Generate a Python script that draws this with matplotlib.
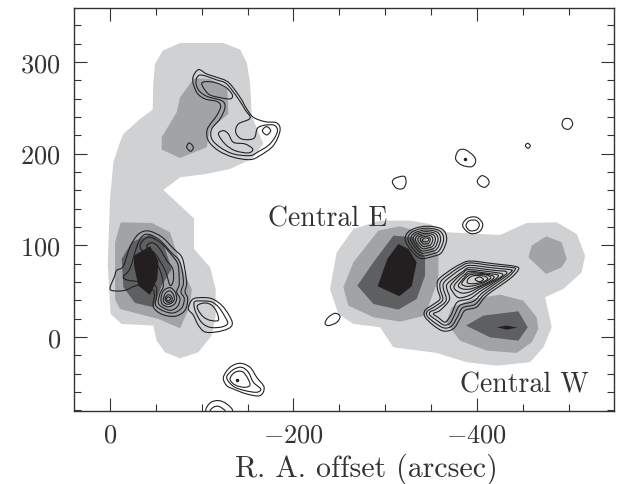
import matplotlib
matplotlib.use("Agg")
import matplotlib.pyplot as plt
import numpy as np
from matplotlib.patches import PathPatch
from matplotlib.path import Path
from matplotlib.ticker import MultipleLocator

# grey levels (R.A. offset, Dec offset in arcsec)
light_left = [(-76.4,320.6),(-123.6,320.6),(-141.8,313.4),(-149.1,299.5),(-152.7,277.7),(-154.5,241.4),(-167.2,210.5),(-154.5,194.1),(-130.9,183.2),(-105.4,177.8),(-76.4,174.1),(-58.2,160.3),(-91.6,129.4),(-91.6,96),(-109.1,76),(-115.2,52.4),(-115.2,23.3),(-110.9,1.5),(-96.4,-16.7),(-76.4,-23.3),(-60,-16.7),(-50.9,-4),(-47.3,12.4),(-12.7,14.2),(-0.7,25.1),(2.5,77.8),(0,150.5),(-3.7,190.5),(-10.9,212.3),(-14.6,221.4),(-32.7,237.7),(-46.5,247.9),(-47.3,277.7),(-49.1,297.7),(-57.5,312.3)]
light_right = [(-239.9,52.4),(-247.2,92.3),(-265.4,117.8),(-294.4,126.9),(-327.2,126.9),(-349,123.2),(-367.1,114.2),(-425.3,111.2),(-454.4,124.3),(-487.1,125.1),(-508.9,112.3),(-518,88.7),(-514.4,70.5),(-494.4,52.4),(-474.4,43.3),(-481.6,10.6),(-472.6,-11.3),(-458,-27.6),(-421.7,-31.3),(-389,-27.6),(-356.2,-17.4),(-309,-11.3),(-294.4,10.6),(-265.4,14.2),(-249,25.1)]
mid_top = [(-91.6,282.1),(-76.4,261.4),(-72.7,245),(-56.4,217.8),(-56.4,204.3),(-76.4,195.2),(-105.4,206.9),(-109.1,226.8),(-129.1,243.2),(-128,270.5),(-109.1,281.4)]
mid_left = [(-11.7,125),(-45.5,124.3),(-65.4,114.2),(-72.7,92.3),(-81.8,66.9),(-89.1,52.4),(-87.3,34.2),(-76.4,9.5),(-52.7,19.6),(-10.9,30.5),(-5.5,41.4),(-5.5,103.2)]
mid_east = [(-254.5,54.2),(-265.4,81.4),(-292.6,116),(-316.3,120.7),(-338.1,114.2),(-358.1,88.7),(-358.1,63.3),(-343.5,23.3),(-316.3,16.7),(-287.2,21.5),(-259.9,34.2)]
mid_hex = [(-456.2,86.9),(-459.8,99.6),(-475.5,109.8),(-492.5,103.2),(-498,85.1),(-492.5,76),(-475.5,68.7)]
mid_west = [(-366.4,16),(-372.6,32.4),(-396.2,41.4),(-425.3,46.2),(-450.7,39.6),(-465.3,21.5),(-467.1,8.7),(-459.8,-5.8),(-443.5,-17.4),(-410.8,-14.9),(-381.7,-4)]
dark_left = [(-23.6,103.2),(-43.6,112.3),(-58.2,101.4),(-67.3,74.2),(-56.4,56),(-47.3,32.4),(-27.3,37.1),(-14.6,54.2),(-12.7,85.1)]
dark_east = [(-269.7,56),(-287.2,81.4),(-309,110.5),(-330.8,108.7),(-343.5,86.9),(-343.5,66.9),(-334.4,41.4),(-314.4,29.8),(-287.2,36)]
dark_west = [(-388.2,12.4),(-407.1,23.3),(-445.3,28),(-455.5,10.6),(-445.3,-4),(-414.4,-0.4)]
black_left = [(-43.6,98.9),(-52.7,83.3),(-51.6,63.3),(-43.6,45.8),(-30.9,56),(-26.2,77.8),(-26.2,88.7)]
black_east = [(-291.9,55.3),(-302.4,85.1),(-314.4,101.4),(-325.3,96),(-334.4,81.4),(-329,55.3),(-315.5,44.4)]
black_west = [(-421.7,10.6),(-432.6,12.4),(-444.2,10.2),(-432.6,8)]

# contour rings
east_rings = [
    [(-321.7,106.9),(-327.2,116),(-343.5,120.7),(-361.7,117.8),(-367.1,106.9),(-361.7,92.3),(-352.6,88),(-338.1,85.8),(-327.2,96)],
    [(-324.8,107),(-329.5,114.6),(-343.5,118.6),(-359,116),(-363.8,106.8),(-359,94.2),(-351.3,90.5),(-338.8,88.6),(-329.5,97.4)],
    [(-327.8,106.6),(-331.8,113.2),(-343.5,116.6),(-356.6,114.5),(-360.5,106.6),(-356.6,96.1),(-350,93),(-339.6,91.5),(-331.8,98.8)],
    [(-330.4,106.5),(-333.7,112),(-343.5,114.8),(-354.4,113),(-357.7,106.5),(-354.4,97.8),(-349,95.2),(-340.3,93.9),(-333.7,100)],
    [(-333,106.4),(-335.7,110.8),(-343.5,113),(-352.2,111.6),(-354.8,106.4),(-352.2,99.4),(-347.9,97.4),(-340.9,96.3),(-335.7,101.2)],
    [(-335.6,106.3),(-337.6,109.6),(-343.5,111.3),(-350,110.2),(-352,106.3),(-350,101),(-346.8,99.5),(-341.6,98.7),(-337.6,102.4)],
    [(-338.3,106.2),(-339.6,108.4),(-343.5,109.5),(-347.9,108.8),(-349.2,106.2),(-347.9,102.7),(-345.7,101.7),(-342.2,101.2),(-339.6,103.6)],
    [(-340.6,106),(-343.5,107.9),(-347,107.3),(-347.5,105.5),(-345,103.8),(-341.5,104)],
]
west_rings = [
    [(-392.6,82.8),(-418.1,79.9),(-441.7,77),(-445.3,73.4),(-436.2,63.6),(-410.8,45.4),(-399.9,32.7),(-387.2,29),(-381.7,20),(-374.5,9),(-363.5,6.5),(-352.6,12.7),(-343.5,21.8),(-343.5,29),(-352.6,35.6),(-359.9,41.8),(-357,52.7),(-358.1,62.5),(-370.8,72.7),(-381.7,79.2)],
    [(-392.6,80.7),(-418.1,77.7),(-439.2,75.6),(-441.7,73.4),(-433.3,64.7),(-409,47.2),(-398.1,35.6),(-384.6,31.9),(-378.8,21.8),(-372.6,12),(-364.3,9.8),(-354.5,15.2),(-346.1,22.5),(-346.1,28),(-354.5,33.4),(-362.8,40.7),(-359.9,52.7),(-361,61),(-372.6,70.5),(-382.5,77)],
    [(-392.6,78.1),(-418.1,75.2),(-436.2,73.4),(-438.1,71.9),(-429.7,64.7),(-407.2,49),(-396.3,38.9),(-381.7,34.5),(-375.5,23.6),(-370.8,15.2),(-364.3,13),(-356.3,18.1),(-349,23.6),(-349,27.2),(-356.3,30.9),(-366.5,39.9),(-363.5,52.7),(-364.3,59.6),(-374.5,68.3),(-383.5,74.5)],
    [(-392.6,75.6),(-418.1,72.7),(-432.6,70.8),(-425.3,63.6),(-405.3,50.9),(-392.6,41.8),(-378.8,38.1),(-372.6,25.4),(-367.9,18.1),(-364.3,16.3),(-358.1,21.1),(-352.6,25.4),(-359.9,29),(-370.1,40.7),(-367.2,52.7),(-367.9,58.1),(-377.4,66.1),(-385.4,71.9)],
    [(-390.8,73.4),(-416.3,70.8),(-428.3,68.3),(-421.7,62.5),(-403.5,52.7),(-391.9,45.4),(-379.9,42.9),(-372.6,50.9),(-371.5,56.3),(-378.8,64.7),(-385.4,69.8)],
    [(-392.6,71.6),(-414.4,69),(-423.5,67.2),(-418.1,61.8),(-401.7,53.8),(-391.9,49),(-383.5,47.9),(-376.3,51.6),(-375.5,56.3),(-381.7,63.6),(-387.2,68.3)],
    [(-392.6,69.8),(-410.8,68.3),(-418.8,65.4),(-412.6,59.9),(-399.9,54.5),(-390.8,52),(-383.5,52.7),(-379.9,56.3),(-385.4,63.6)],
    [(-394.4,68.3),(-409,67.9),(-415.2,64.7),(-409,59.9),(-398.1,56.3),(-389,55.2),(-383.5,58.1),(-388.3,64.7)],
    [(-396.3,66.8),(-407.2,66.5),(-411.9,63.6),(-406.4,59.9),(-396.3,58.1),(-389.7,58.9),(-390.8,63.6)],
    [(-398.1,62.8),(-402.8,65.4),(-407.2,62.8),(-402.8,60.3)],
]
left_rings = [
    [(0,52.8),(-4.7,65.5),(-7.3,72.7),(-14.5,77.1),(-21.8,98.2),(-30.9,112),(-41.8,115.6),(-56.4,109.1),(-69.1,96.4),(-78.2,87.3),(-81.8,72.7),(-83.6,58.2),(-81.8,49.1),(-84.7,41.8),(-81.8,29.1),(-70.9,22.6),(-56.4,24.8),(-47.3,32.8),(-48.4,45.5),(-45.4,52.8),(-30.9,56.4),(-16.4,50.9),(-5.5,50.2)],
    [(-14.5,65.5),(-21.8,74.6),(-29.1,98.2),(-34.5,109.1),(-41.8,112),(-54.5,105.5),(-67.3,91.6),(-75.3,83.6),(-78.9,70.9),(-80,58.2),(-77.4,49.1),(-81,41.8),(-78.2,31.7),(-69.1,26.2),(-58.2,28.4),(-49.8,34.6),(-50.9,45.5),(-49.1,56.4),(-34.5,60),(-20,61.8)],
    [(-32.7,100),(-38.2,107.3),(-45.4,108.4),(-56.4,101.8),(-67.3,89.1),(-73.8,80),(-75.3,67.3),(-75.3,56.4),(-72.7,49.1),(-76.3,41.8),(-73.8,33.5),(-66.5,29.1),(-58.2,31.7),(-52.7,37.1),(-54.5,47.3),(-58.2,56.4),(-54.5,72.7),(-43.6,92.7),(-36.4,92.7)],
    [(-40,98.2),(-45.4,102.9),(-52.7,98.2),(-61.8,83.6),(-68.3,74.6),(-69.1,61.8),(-65.4,56.4),(-60,72.7),(-49.1,90.9)],
    [(-55.6,41.8),(-58.2,50.2),(-65.4,53.8),(-70.9,49.1),(-72.7,41.8),(-70.2,35.7),(-63.6,32.8),(-57.1,35.7)],
    [(-58.2,41.8),(-60.7,48),(-65.4,50.2),(-69.1,46.2),(-70.2,41.1),(-67.3,37.1),(-62.5,35.7),(-58.9,37.9)],
    [(-60,41.8),(-63.6,46.2),(-67.3,43.7),(-67.3,39.3),(-62.9,37.8)],
    [(-61.1,41.5),(-63.6,43.7),(-66.1,41.8),(-63.6,39.3)],
    [(-89.8,40.8),(-98.1,42.9),(-110.9,41.8),(-121.8,34.6),(-129.8,23.7),(-133.4,14.6),(-129.1,9.1),(-116.3,5.5),(-103.6,5.5),(-96.3,12.8),(-90.9,23.7),(-85.4,30.9)],
    [(-92,38.2),(-100,39.3),(-110.9,38.2),(-118.9,32),(-125.4,21.9),(-128.3,14.6),(-121.8,10.9),(-110.9,10.2),(-103.6,12.8),(-98.1,18.2),(-92.7,29.1)],
    [(-95.6,34.6),(-103.6,37.1),(-110.9,34.6),(-116.3,27.3),(-118.1,18.2),(-109.1,18.2),(-101.8,21.9),(-96.3,29.1)],
]
top_rings = [
    [(-90.2,281.4),(-96.3,291.5),(-105.4,286.8),(-116.3,283.2),(-129.1,277.7),(-141.8,261.4),(-149.1,248.7),(-156.3,239.6),(-169,234.8),(-181.8,233.4),(-185.4,225),(-178.1,208.7),(-163.6,197.8),(-152.7,193.4),(-134.5,196),(-118.2,203.2),(-107.3,214.1),(-106.2,226.8),(-116.3,241.4),(-120.7,251.6),(-116.3,257),(-103.6,259.6),(-94.5,266.8)],
    [(-93.8,279.6),(-98.9,285.7),(-116.3,280.3),(-127.2,275.9),(-140,259.6),(-147.2,247.9),(-152.7,238.5),(-140,232.3),(-137.1,223.2),(-143.6,215.9),(-157,216.7),(-161.8,228.7),(-178.1,231.2),(-182.5,223.9),(-174.5,210.5),(-161.8,202.1),(-152.7,197.8),(-134.5,199.6),(-120,206.9),(-110.9,216),(-110.9,226.8),(-120,237.8),(-125.4,250.5),(-121.8,257.7),(-105.4,262.5),(-96.3,269.7)],
    [(-100,275.9),(-105.4,278.5),(-116.3,277),(-127.2,271.6),(-133.4,263.9),(-130.9,259.6),(-118.2,261.4),(-107.3,265)],
    [(-118.2,221.4),(-123.6,225),(-129.1,221.4),(-134.5,212.3),(-147.2,210.5),(-155.6,205),(-150.9,200.7),(-136.3,203.2),(-125.4,210.5)],
    [(-166.1,225),(-170.8,229.4),(-175.2,225),(-170.8,220.3)],
    [(-83.6,206.9),(-86.5,211.6),(-90.9,206.9),(-88,202.5)],
]
south_rings = [
    [(-123.6,-44),(-130.9,-33.1),(-141.8,-28.7),(-152.7,-33.1),(-160,-44),(-168,-54.9),(-163.6,-64),(-149.1,-62.2),(-134.5,-56.7),(-127.2,-53)],
    [(-127.2,-44),(-134.5,-35.6),(-143.6,-33.1),(-150.9,-38.5),(-156.3,-49.4),(-164.3,-56.7),(-160,-60.3),(-147.2,-58.5),(-134.5,-53.8)],
    [(-130.9,-45.8),(-136.3,-38.5),(-145.4,-38.5),(-152.7,-51.3),(-147.2,-54.9),(-136.3,-52.3)],
    [(-104.7,-82),(-109.1,-72),(-118.2,-69.4),(-127.2,-73),(-133.4,-82),(-118,-95)],
    [(-109.1,-82),(-112.7,-76.7),(-118.2,-75.6),(-123.6,-78.7),(-125.4,-82),(-118,-90)],
]
small_rings = [
    [(-307.9,168.6),(-310.8,173),(-320.6,175.2),(-322.8,168.6),(-319.8,162.1),(-312.6,162.1)],
    [(-376.9,194.1),(-379.8,203.1),(-387.1,204.3),(-396.2,197.7),(-398.7,191.5),(-394.4,185.7),(-383.5,187.5)],
    [(-400.5,170.4),(-405.3,175.9),(-411.4,173),(-413.3,167.9),(-408.9,163.2),(-402.7,165.7)],
    [(-452.9,208.6),(-455.4,211.2),(-458.3,208.6),(-455.8,205.7)],
    [(-492.9,232.2),(-495.4,237.7),(-501.6,237.7),(-504.5,232.2),(-500.9,226.8),(-495.4,227.5)],
    [(-384.5,121.4),(-389.6,129.4),(-399.8,130.5),(-406.4,123.2),(-402.7,114.8),(-392.5,113)],
    [(-388.2,121.4),(-391.8,126.8),(-399.1,127.2),(-402.7,122.5),(-399.8,117),(-392.5,115.9)],
    [(-234.5,15.3),(-238.1,21.5),(-245.4,25.8),(-250.8,22.5),(-247.2,15.9),(-238.1,12.4)],
]
peak_x = [-386.7, -138.2]
peak_y = [193.7, -46.9]

x_ticks = [0, -200, -400]
x_tick_labels = ["$0$", "$-200$", "$-400$"]
y_ticks = [0, 100, 200, 300]
y_tick_labels = ["$0$", "$100$", "$200$", "$300$"]

LIGHT = "#cfd1d3"
MID = "#a1a4a6"
DARK = "#5e5f61"
BLACK = "#231f20"
LINE = "#222222"
TEXT = "#333333"


def smooth_path(points):
    # closed Catmull-Rom ring through the read vertices, as bezier segments
    p = np.array(points, dtype=float)
    n = len(p)
    verts = [p[0]]
    codes = [Path.MOVETO]
    for i in range(n):
        p0, p1, p2, p3 = p[i - 1], p[i], p[(i + 1) % n], p[(i + 2) % n]
        verts += [p1 + (p2 - p0) / 6, p2 - (p3 - p1) / 6, p2]
        codes += [Path.CURVE4] * 3
    return Path(verts, codes)


plt.rcParams.update({"mathtext.fontset": "cm", "font.family": "cmr10", "axes.unicode_minus": False})

fig = plt.figure(figsize=(6.21, 4.85), dpi=100)
ax = fig.add_axes([73.5 / 621, 73.5 / 485, 540 / 621, 403 / 485])

for poly in [light_left, light_right]:
    ax.fill(*zip(*poly), color=LIGHT, lw=0, zorder=1)
for poly in [mid_top, mid_left, mid_east, mid_hex, mid_west]:
    ax.fill(*zip(*poly), color=MID, lw=0, zorder=2)
for poly in [dark_left, dark_east, dark_west]:
    ax.fill(*zip(*poly), color=DARK, lw=0, zorder=3)
for poly in [black_left, black_east, black_west]:
    ax.fill(*zip(*poly), color=BLACK, lw=0, zorder=4)

for group in [east_rings, west_rings, left_rings, top_rings, south_rings, small_rings]:
    for ring in group:
        ax.add_patch(PathPatch(smooth_path(ring), fill=False, edgecolor=LINE, lw=0.8, zorder=5))
ax.plot(peak_x, peak_y, ls="none", marker="o", ms=1.5, color=LINE, zorder=5)

ax.set_xlim(39.8, -549)
ax.set_ylim(-80.2, 359.3)
ax.set_xticks(x_ticks)
ax.set_xticklabels(x_tick_labels)
ax.set_yticks(y_ticks)
ax.set_yticklabels(y_tick_labels)
ax.xaxis.set_minor_locator(MultipleLocator(50))
ax.yaxis.set_minor_locator(MultipleLocator(20))
ax.tick_params(which="major", direction="in", top=True, right=True, length=9.5, width=0.8, color="#333333", labelsize=19, pad=9, labelcolor=TEXT)
ax.tick_params(which="minor", direction="in", top=True, right=True, length=5, width=0.8, color="#333333")
for spine in ax.spines.values():
    spine.set_linewidth(1.0)
    spine.set_color("#333333")

ax.text(-172.3, 122, "Central E", fontsize=20, color=TEXT, zorder=6)
ax.text(-381.7, -59, "Central W", fontsize=20, color=TEXT, zorder=6)
ax.set_xlabel("R. A. offset (arcsec)", fontsize=21.5, color=TEXT, labelpad=4, x=0.542)

fig.savefig("out.png", dpi=100)
